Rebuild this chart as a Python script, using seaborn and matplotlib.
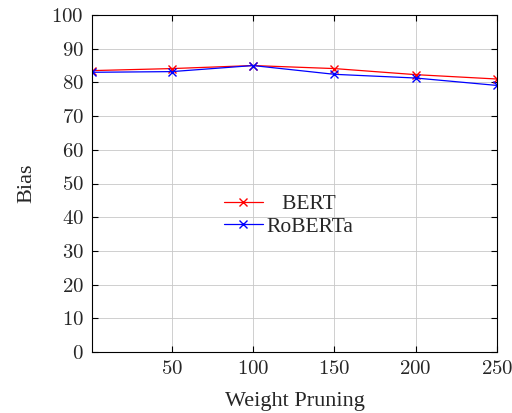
import matplotlib
matplotlib.use("Agg")
import matplotlib.pyplot as plt
import matplotlib.ticker as mticker
import seaborn as sns

pruning = [1, 50, 100, 150, 200, 250]
bert_bias = [83.5, 84.1, 85.0, 84.1, 82.3, 81.0]
roberta_bias = [83.0, 83.2, 85.0, 82.4, 81.3, 79.1]
model_names = ["BERT", "RoBERTa"]
model_colors = ["red", "blue"]
x_ticks = [50, 100, 150, 200, 250]
y_ticks = list(range(0, 101, 10))

sns.set_style("whitegrid")
plt.rcParams["font.family"] = ["Liberation Serif", "DejaVu Serif"]
plt.rcParams["mathtext.fontset"] = "cm"

fig = plt.figure(figsize=(5.12, 4.13), dpi=100)
ax = fig.add_axes([92 / 512, 1 - 352 / 413, (497 - 92) / 512, (352 - 15) / 413])

for name, vals, col in zip(model_names, [bert_bias, roberta_bias], model_colors):
    # pgfplots centres legend text, pad the short label to mimic that
    label = "   " + name if name == "BERT" else name
    sns.lineplot(x=pruning, y=vals, color=col, marker="x", markersize=6,
                 markeredgewidth=1.0, markeredgecolor=col, linewidth=0.9,
                 label=label, ax=ax)

ax.set_xlim(pruning[0], pruning[-1])
ax.set_ylim(0, 100)
ax.set_xticks(x_ticks)
ax.set_yticks(y_ticks)
tick_fmt = mticker.FuncFormatter(lambda v, pos: f"${int(v)}$")
ax.xaxis.set_major_formatter(tick_fmt)
ax.yaxis.set_major_formatter(tick_fmt)
ax.grid(True, color="#c8c8c8", linewidth=0.6)
for s in ax.spines.values():
    s.set_color("black")
    s.set_linewidth(0.8)
ax.tick_params(axis="both", direction="in", length=4, color="black",
               labelsize=15, pad=6)
ax.xaxis.set_ticks_position("both")
ax.yaxis.set_ticks_position("both")
ax.set_xlabel("Weight Pruning", fontsize=16, labelpad=9)
ax.set_ylabel("Bias", fontsize=16, labelpad=11)

ax.legend(loc="center", bbox_to_anchor=(0.485, 0.405),
          fontsize=15.5, frameon=False, handlelength=1.8,
          handletextpad=0.15, borderpad=0.3, labelspacing=0.1)

fig.savefig("out.png", dpi=100)
